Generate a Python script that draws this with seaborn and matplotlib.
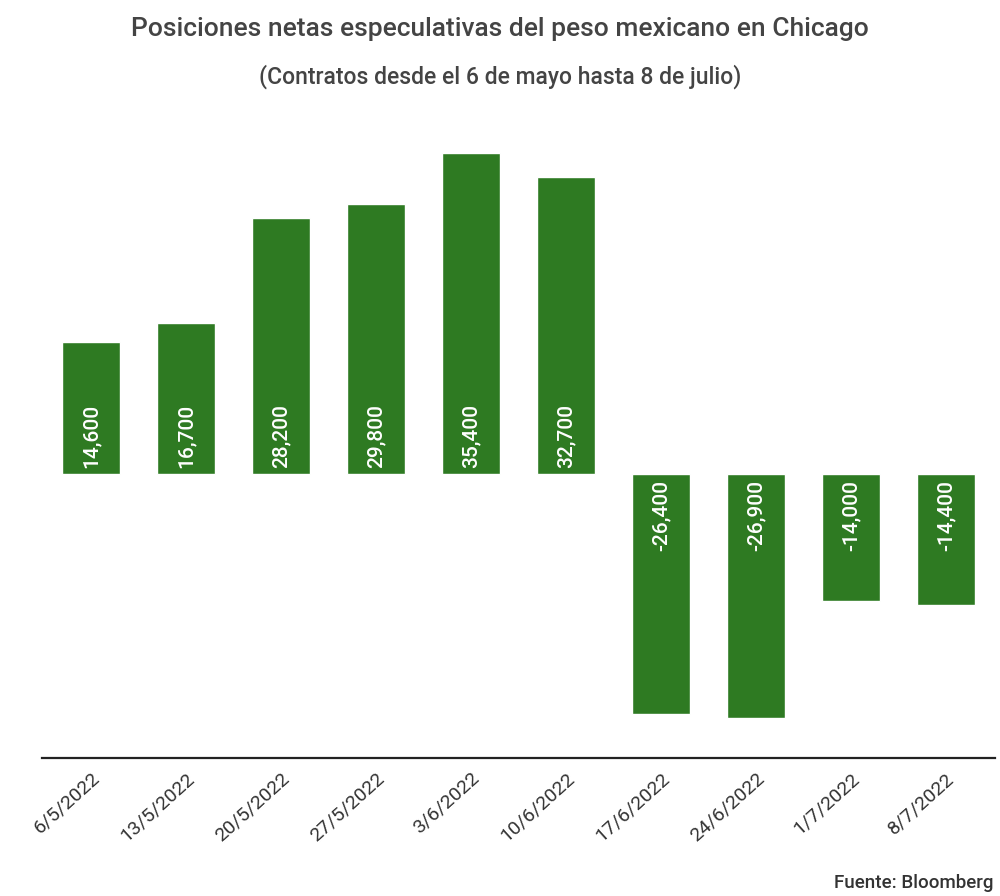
import pandas as pd
import matplotlib.pyplot as plt
import seaborn as sns

sns.set_style("white")
plt.rcParams['font.family'] = ['Roboto', 'DejaVu Sans']

fechas = ["6/5/2022", "13/5/2022", "20/5/2022", "27/5/2022", "3/6/2022",
          "10/6/2022", "17/6/2022", "24/6/2022", "1/7/2022", "8/7/2022"]
contratos = [14600, 16700, 28200, 29800, 35400, 32700, -26400, -26900, -14000, -14400]

df = pd.DataFrame({"fecha": fechas, "contratos": contratos})

fig = plt.figure(figsize=(10, 8.96), dpi=100)
ax = fig.add_axes([0.042, 0.154, 0.953, 0.723])

sns.barplot(data=df, x="fecha", y="contratos", color="#2e7a22", saturation=1,
            width=0.61, ax=ax)

# etiquetas de valor dentro de cada barra, pegadas al cero
for i, v in enumerate(df["contratos"]):
    if v > 0:
        ax.text(i, 700, f"{v:,}", rotation=90, ha="center", va="bottom",
                color="white", fontsize=15, fontweight="medium")
    else:
        ax.text(i, -700, f"{v:,}", rotation=90, ha="center", va="top",
                color="white", fontsize=15, fontweight="medium")

ax.set_ylim(-31300, 40100)
ax.set_xlim(-0.52, 9.52)
ax.set_yticks([])
ax.set_xlabel("")
ax.set_ylabel("")
for s in ["top", "right", "left"]:
    ax.spines[s].set_visible(False)
ax.spines["bottom"].set_color("#222222")
ax.spines["bottom"].set_linewidth(1.6)
ax.tick_params(axis="x", length=0, pad=8)
plt.setp(ax.get_xticklabels(), rotation=42, ha="right", rotation_mode="anchor",
         fontsize=14, color="#333333")

fig.text(0.5, 0.968, "Posiciones netas especulativas del peso mexicano en Chicago",
         ha="center", va="center", fontsize=19, fontweight="medium", color="#444444")
fig.text(0.5, 0.914, "(Contratos desde el 6 de mayo hasta 8 de julio)",
         ha="center", va="center", fontsize=16.5, fontweight="medium", color="#444444")
fig.text(0.993, 0.015, "Fuente: Bloomberg", ha="right", va="center",
         fontsize=13.5, fontweight="medium", color="#333333")

plt.savefig("out.png", dpi=100)
